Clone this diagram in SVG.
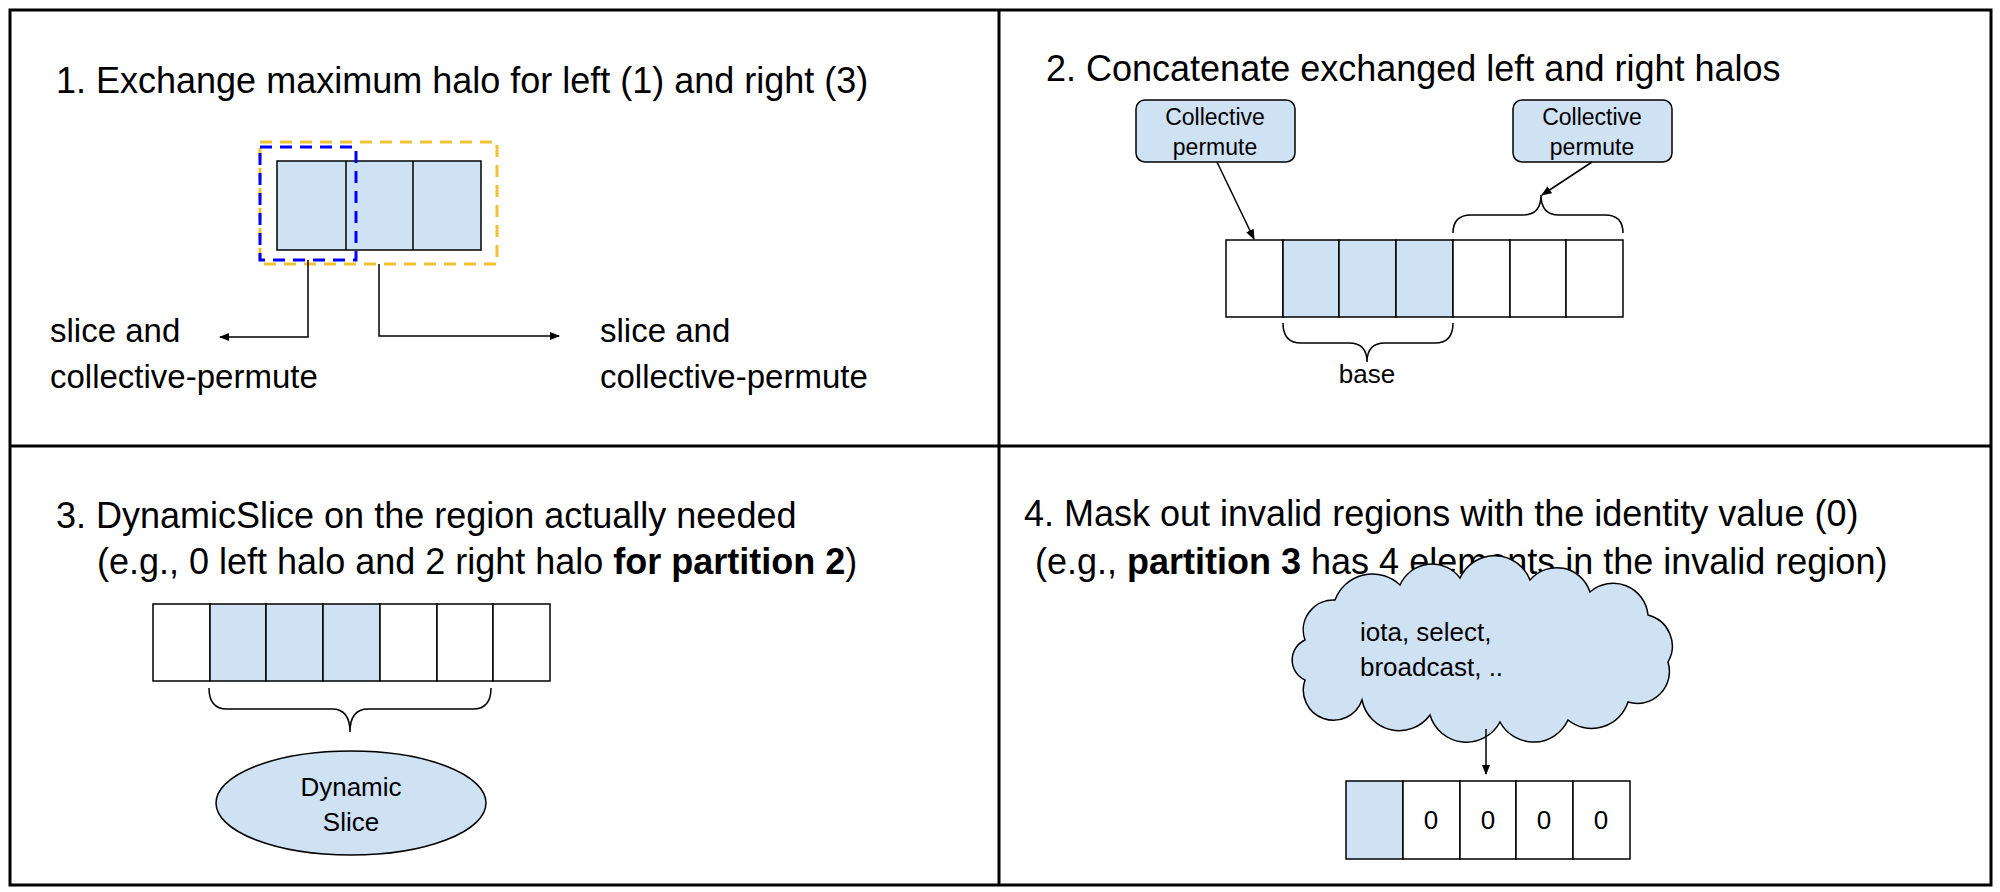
<svg xmlns="http://www.w3.org/2000/svg" width="2000" height="892" viewBox="0 0 2000 892">
<style>
text{font-family:"Liberation Sans",Arial,sans-serif;fill:#000}
.t{font-size:36px}
.l{font-size:33px}
.s{font-size:23px}
.m{font-size:26px}
.c{fill:#fff;stroke:#000;stroke-width:1.5}
.f{fill:#cfe2f3;stroke:#000;stroke-width:1.5}
.ln{fill:none;stroke:#000;stroke-width:1.5}
</style>
<defs>
<marker id="a" viewBox="0 0 10 10" refX="9" refY="5" markerWidth="7" markerHeight="7" orient="auto"><path d="M0,1L10,5L0,9z" fill="#000"/></marker>
</defs>
<rect width="2000" height="892" fill="#fff"/>
<g id="frame" fill="none" stroke="#000" stroke-width="3">
<rect x="10" y="10" width="1981" height="875"/>
<line x1="999" y1="10" x2="999" y2="885"/>
<line x1="10" y1="446" x2="1991" y2="446"/>
</g>
<g id="panel1">
<text class="t" x="56" y="93">1. Exchange maximum halo for left (1) and right (3)</text>
<rect class="f" x="277" y="161" width="204" height="89"/>
<line class="ln" x1="346" y1="161" x2="346" y2="250"/>
<line class="ln" x1="413" y1="161" x2="413" y2="250"/>
<rect x="260" y="142" width="237" height="122" fill="none" stroke="#f1c232" stroke-width="3" stroke-dasharray="12,8"/>
<rect x="260" y="147" width="96" height="113" fill="none" stroke="#0000ff" stroke-width="3" stroke-dasharray="12,8"/>
<text class="l" x="50" y="342">slice and</text>
<text class="l" x="50" y="388">collective-permute</text>
<text class="l" x="600" y="342">slice and</text>
<text class="l" x="600" y="388">collective-permute</text>
</g>
<g id="panel2">
<text class="t" x="1046" y="81">2. Concatenate exchanged left and right halos</text>
<g id="cp1"><rect class="f" x="1136" y="100" width="159" height="62" rx="9"/>
<text class="s" x="1215" y="125" text-anchor="middle">Collective</text>
<text class="s" x="1215" y="155" text-anchor="middle">permute</text></g>
<g id="cp2"><rect class="f" x="1513" y="100" width="159" height="62" rx="9"/>
<text class="s" x="1592" y="125" text-anchor="middle">Collective</text>
<text class="s" x="1592" y="155" text-anchor="middle">permute</text></g>
<g id="arr2">
<rect class="c" x="1226" y="240" width="57" height="77"/>
<rect class="f" x="1283" y="240" width="56" height="77"/>
<rect class="f" x="1339" y="240" width="57" height="77"/>
<rect class="f" x="1396" y="240" width="57" height="77"/>
<rect class="c" x="1453" y="240" width="57" height="77"/>
<rect class="c" x="1510" y="240" width="56" height="77"/>
<rect class="c" x="1566" y="240" width="57" height="77"/>
</g>
<path class="ln" d="M1453,233 Q1453,215 1471,215 L1523,215 Q1541,215 1541,195 Q1541,215 1559,215 L1605,215 Q1623,215 1623,233"/>
<path class="ln" d="M1283,323 Q1283,343 1301,343 L1349,343 Q1367,343 1367,362 Q1367,343 1385,343 L1435,343 Q1453,343 1453,323"/>
<text class="m" x="1367" y="383" text-anchor="middle">base</text>
</g>
<g id="panel3">
<text class="t" x="56" y="528">3. DynamicSlice on the region actually needed</text>
<text class="t" x="97" y="574">(e.g., 0 left halo and 2 right halo <tspan font-weight="bold">for partition 2</tspan>)</text>
<rect class="c" x="153" y="604" width="57" height="77"/>
<rect class="f" x="210" y="604" width="56" height="77"/>
<rect class="f" x="266" y="604" width="57" height="77"/>
<rect class="f" x="323" y="604" width="57" height="77"/>
<rect class="c" x="380" y="604" width="57" height="77"/>
<rect class="c" x="437" y="604" width="56" height="77"/>
<rect class="c" x="493" y="604" width="57" height="77"/>
<path class="ln" d="M209,688 Q209,709 227,709 L332,709 Q350,709 350,732 Q350,709 368,709 L473,709 Q491,709 491,688"/>
<g id="ds"><ellipse class="f" cx="351" cy="803" rx="135" ry="52"/>
<text class="m" x="351" y="796" text-anchor="middle">Dynamic</text>
<text class="m" x="351" y="831" text-anchor="middle">Slice</text></g>
</g>
<g id="panel4">
<text class="t" x="1024" y="526">4. Mask out invalid regions with the identity value (0)</text>
<text class="t" x="1035" y="574">(e.g., <tspan font-weight="bold">partition 3</tspan> has 4 elements in the invalid region)</text>
<g id="cloud"><path class="f" d="M1305,640 A30,30 0 0 1 1335,600 A40,40 0 0 1 1400,585 A35,35 0 0 1 1460,578 A38,38 0 0 1 1530,580 A35,35 0 0 1 1590,592 A35,35 0 0 1 1648,615 A32,32 0 0 1 1668,662 A32,32 0 0 1 1628,702 A38,38 0 0 1 1568,720 A38,38 0 0 1 1500,722 A38,38 0 0 1 1430,715 A38,38 0 0 1 1362,700 A30,30 0 0 1 1305,680 A22,22 0 0 1 1305,640 Z"/>
<text class="m" x="1360" y="641">iota, select,</text>
<text class="m" x="1360" y="676">broadcast, ..</text></g>
<rect class="f" x="1346" y="781" width="57" height="78"/>
<rect class="c" x="1403" y="781" width="57" height="78"/>
<rect class="c" x="1460" y="781" width="56" height="78"/>
<rect class="c" x="1516" y="781" width="57" height="78"/>
<rect class="c" x="1573" y="781" width="57" height="78"/>
<text class="m" x="1431" y="829" text-anchor="middle">0</text>
<text class="m" x="1488" y="829" text-anchor="middle">0</text>
<text class="m" x="1544" y="829" text-anchor="middle">0</text>
<text class="m" x="1601" y="829" text-anchor="middle">0</text>
</g>
<g id="connectors" class="ln" marker-end="url(#a)">
<polyline class="ln" points="308,260 308,337 220,337" marker-end="url(#a)"/>
<polyline class="ln" points="379,264 379,336 559,336" marker-end="url(#a)"/>
<line class="ln" x1="1217" y1="162" x2="1254" y2="239" marker-end="url(#a)"/>
<line class="ln" x1="1592" y1="162" x2="1542" y2="195" marker-end="url(#a)"/>
<line class="ln" x1="1486" y1="729" x2="1486" y2="774" marker-end="url(#a)"/>
</g>
</svg>
